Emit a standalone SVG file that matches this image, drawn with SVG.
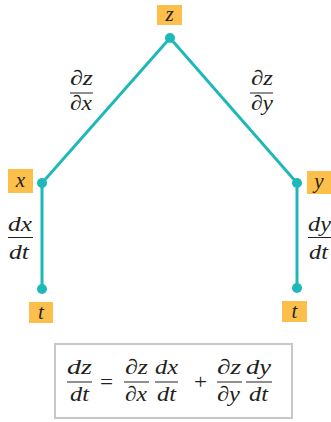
<svg xmlns="http://www.w3.org/2000/svg" width="331" height="422" viewBox="0 0 331 422">
<style>
.lbl{fill:#fcbf4b}
text{font-family:"Liberation Serif","Times New Roman",serif;font-size:21px;fill:#231f20}
.i{font-style:italic}
.c{text-anchor:middle}
.edge{stroke:#1fb8b8;stroke-width:3;fill:none;stroke-linecap:round}
.dot{fill:#1fb8b8}
.bar{stroke:#231f20;stroke-width:1}
</style>
<rect width="331" height="422" fill="#ffffff"/>
<g id="connectors">
<path class="edge" d="M170 38 L42 183 L42 289"/>
<path class="edge" d="M170 38 L297 183 L297 288"/>
<g id="lab-zx"><text x="70" y="85" textLength="23" lengthAdjust="spacingAndGlyphs">∂<tspan class="i">z</tspan></text><line class="bar" x1="70" y1="93" x2="93" y2="93"/><text x="70" y="110" textLength="22" lengthAdjust="spacingAndGlyphs">∂<tspan class="i">x</tspan></text></g>
<g id="lab-zy"><text x="251" y="85" textLength="22" lengthAdjust="spacingAndGlyphs">∂<tspan class="i">z</tspan></text><line class="bar" x1="250" y1="93" x2="273" y2="93"/><text x="251" y="110" textLength="22" lengthAdjust="spacingAndGlyphs">∂<tspan class="i">y</tspan></text></g>
<g id="lab-xt"><text class="i" x="8" y="231" textLength="24" lengthAdjust="spacingAndGlyphs">dx</text><line class="bar" x1="8" y1="237.5" x2="33" y2="237.5"/><text class="i" x="9" y="259" textLength="20" lengthAdjust="spacingAndGlyphs">dt</text></g>
<g id="lab-yt"><text class="i" x="308" y="231" textLength="23" lengthAdjust="spacingAndGlyphs">dy</text><line class="bar" x1="308" y1="237.5" x2="331" y2="237.5"/><text class="i" x="309" y="259" textLength="19" lengthAdjust="spacingAndGlyphs">dt</text></g>
</g>
<g id="node-z"><rect class="lbl" x="157" y="5" width="25" height="20"/><text class="i c" x="169.5" y="21">z</text><circle class="dot" cx="170" cy="38" r="5"/></g>
<g id="node-x"><rect class="lbl" x="8" y="169" width="25" height="24"/><text class="i c" x="20.5" y="187">x</text><circle class="dot" cx="42" cy="183" r="5"/></g>
<g id="node-y"><rect class="lbl" x="307" y="171" width="24" height="23"/><text class="i c" x="319" y="188">y</text><circle class="dot" cx="297" cy="183" r="5"/></g>
<g id="node-t1"><rect class="lbl" x="29" y="302" width="24" height="21"/><text class="i c" x="41" y="319">t</text><circle class="dot" cx="42" cy="289" r="5"/></g>
<g id="node-t2"><rect class="lbl" x="282" y="301" width="25" height="21"/><text class="i c" x="294.5" y="318">t</text><circle class="dot" cx="297" cy="288" r="5"/></g>
<g id="formula">
<rect x="55" y="344" width="237" height="74" fill="#ffffff" stroke="#c8c8c8" stroke-width="2"/>
<text class="i" x="67" y="374" textLength="25" lengthAdjust="spacingAndGlyphs">dz</text><line class="bar" x1="67" y1="382" x2="92" y2="382"/><text class="i" x="70" y="401" textLength="19" lengthAdjust="spacingAndGlyphs">dt</text>
<text x="100" y="389" textLength="13" lengthAdjust="spacingAndGlyphs">=</text>
<text x="125" y="374" textLength="23" lengthAdjust="spacingAndGlyphs">∂<tspan class="i">z</tspan></text><line class="bar" x1="124" y1="382" x2="149" y2="382"/><text x="125" y="401" textLength="22" lengthAdjust="spacingAndGlyphs">∂<tspan class="i">x</tspan></text>
<text class="i" x="155" y="374" textLength="23" lengthAdjust="spacingAndGlyphs">dx</text><line class="bar" x1="155" y1="382" x2="178" y2="382"/><text class="i" x="157" y="401" textLength="19" lengthAdjust="spacingAndGlyphs">dt</text>
<text x="194" y="389" textLength="13" lengthAdjust="spacingAndGlyphs">+</text>
<text x="217" y="374" textLength="24" lengthAdjust="spacingAndGlyphs">∂<tspan class="i">z</tspan></text><line class="bar" x1="217" y1="382" x2="242" y2="382"/><text x="217" y="401" textLength="23" lengthAdjust="spacingAndGlyphs">∂<tspan class="i">y</tspan></text>
<text class="i" x="246" y="374" textLength="25" lengthAdjust="spacingAndGlyphs">dy</text><line class="bar" x1="246" y1="382" x2="272" y2="382"/><text class="i" x="249" y="401" textLength="19" lengthAdjust="spacingAndGlyphs">dt</text>
</g>
</svg>
